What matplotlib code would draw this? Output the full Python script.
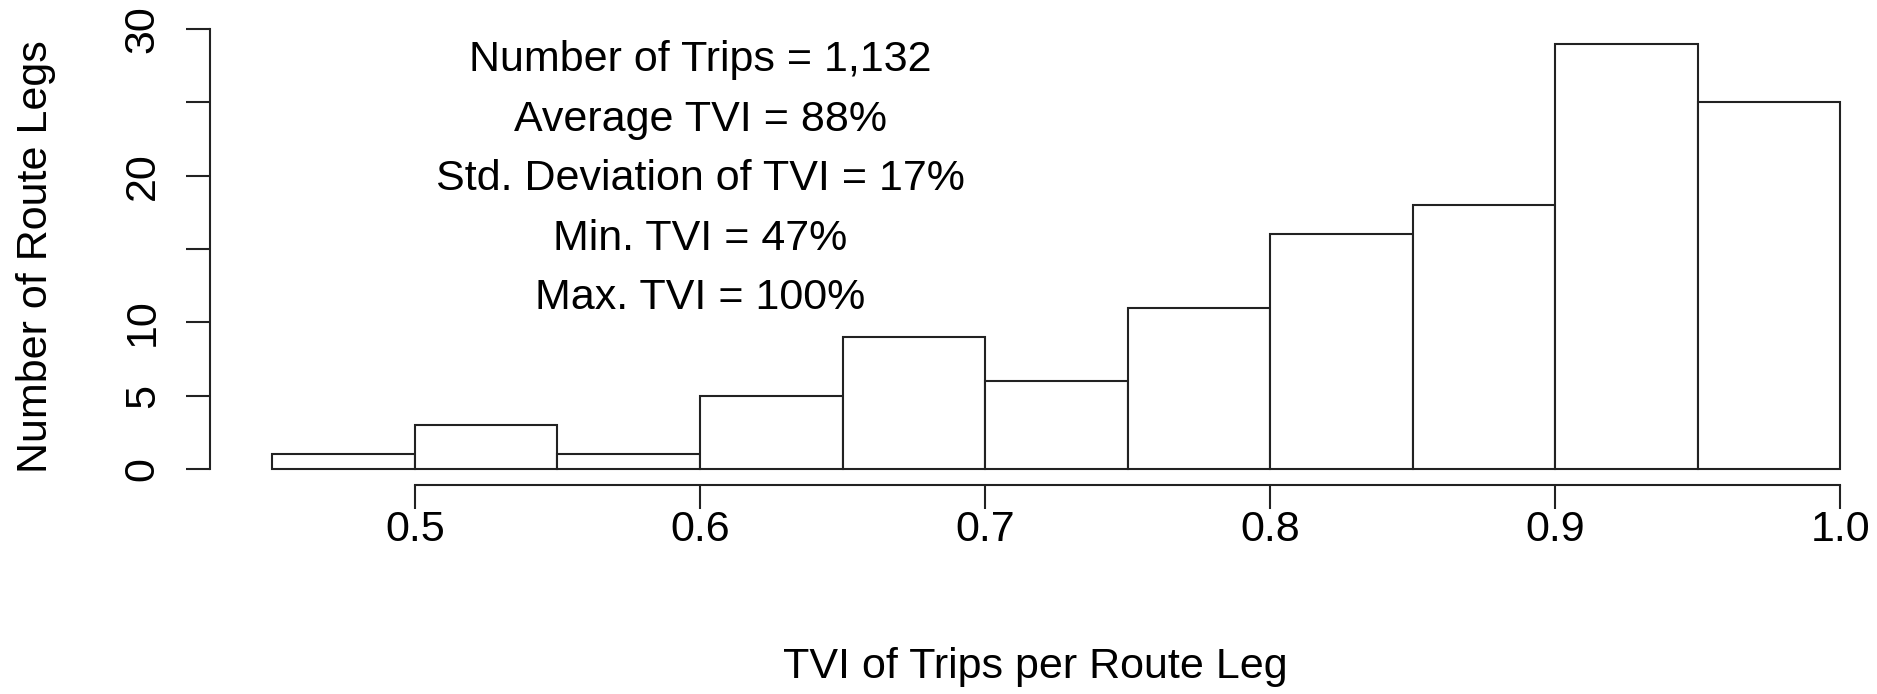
import matplotlib
matplotlib.use('Agg')
import matplotlib.pyplot as plt

# histogram bins of TVI per route leg
bin_edges = [0.45, 0.50, 0.55, 0.60, 0.65, 0.70, 0.75, 0.80, 0.85, 0.90, 0.95, 1.00]
counts = [1, 3, 1, 5, 9, 6, 11, 16, 18, 29, 25]

x_ticks = [0.5, 0.6, 0.7, 0.8, 0.9, 1.0]
x_tick_labels = ["0.5", "0.6", "0.7", "0.8", "0.9", "1.0"]
y_ticks = [0, 5, 10, 15, 20, 25, 30]
y_tick_labels = ["0", "5", "10", "", "20", "", "30"]

summary_lines = [
    "Number of Trips = 1,132",
    "Average TVI = 88%",
    "Std. Deviation of TVI = 17%",
    "Min. TVI = 47%",
    "Max. TVI = 100%",
]
summary_y = [28.2, 24.15, 20.1, 16.05, 12.0]
summary_x = 0.6

plt.rcParams['font.family'] = ['Liberation Sans', 'DejaVu Sans']
FS = 31
LW = 1.5
COL = '#222222'

fig = plt.figure(figsize=(18.77, 6.94), dpi=100)
ax = fig.add_axes([0.1119, 0.3012, 0.991 - 0.1119, 0.9582 - 0.3012])

widths = [b - a for a, b in zip(bin_edges[:-1], bin_edges[1:])]
ax.bar(bin_edges[:-1], counts, width=widths, align='edge',
       facecolor='white', edgecolor=COL, linewidth=LW)

ax.set_xlim(0.4281, 1.007)
ax.set_ylim(-1.09, 30)

for s in ['top', 'right']:
    ax.spines[s].set_visible(False)
ax.spines['left'].set_bounds(0, 30)
ax.spines['bottom'].set_bounds(0.5, 1.0)
for s in ['left', 'bottom']:
    ax.spines[s].set_linewidth(LW)
    ax.spines[s].set_color(COL)

ax.set_xticks(x_ticks)
ax.set_xticklabels(x_tick_labels)
ax.set_yticks(y_ticks)
ax.set_yticklabels(y_tick_labels, rotation=90, va='center')
ax.tick_params(axis='both', length=17, width=LW, color=COL, labelsize=FS)
ax.tick_params(axis='x', pad=1)
ax.tick_params(axis='y', pad=17)

ax.set_xlabel("TVI of Trips per Route Leg", fontsize=FS, labelpad=70)
ax.set_ylabel("Number of Route Legs", fontsize=FS, labelpad=48)

# summary stats, centred on the cap height of each line
for txt, yy in zip(summary_lines, summary_y):
    ax.annotate(txt, (summary_x, yy), xytext=(0, -11.5), textcoords='offset points',
                ha='center', va='baseline', fontsize=FS)

fig.savefig('out.png', dpi=100, facecolor='white')
